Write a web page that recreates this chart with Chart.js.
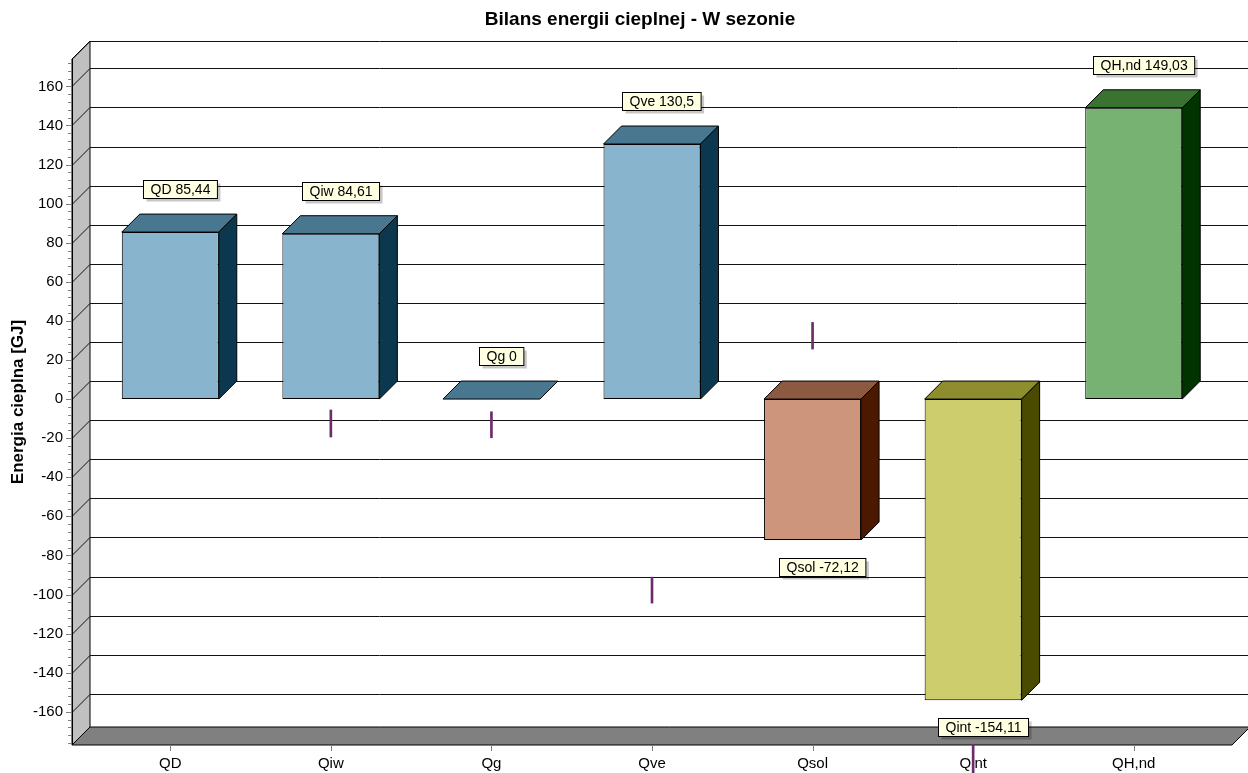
<!DOCTYPE html>
<html>
<head>
<meta charset="utf-8">
<script src="https://cdn.jsdelivr.net/npm/chart.js@4/dist/chart.umd.min.js"></script>
<style>
  body { margin: 0; background: #fff; }
</style>
</head>
<body>
<canvas id="myChart" width="1248" height="773"></canvas>
<script>
// data
const categories = ['QD', 'Qiw', 'Qg', 'Qve', 'Qsol', 'Qint', 'QH,nd'];
const values = [85.44, 84.61, 0, 130.5, -72.12, -154.11, 149.03];
// the small purple marks, low / high ends
const markLow = [null, -19.4, -19.8, -104.4, 25.6, -191.4, null];
const markHigh = [null, -5.6, -6.5, -91.1, 39.2, -176.6, null];
const yMin = -177;
const yMax = 174;
const yStep = 20;

// colours of the box faces
const frontColors = ['#88b5cd', '#88b5cd', '#88b5cd', '#88b5cd', '#cd967c', '#cdcd6e', '#78b273'];
const topColors = ['#48778f', '#48778f', '#48778f', '#48778f', '#8c5a40', '#8e8e2e', '#3a7232'];
const sideColors = ['#0b374f', '#0b374f', '#0b374f', '#0b374f', '#4b1900', '#4b4b00', '#003300'];

const FONT = 'Arial, "Liberation Sans", sans-serif';
const depth = 18;

function poly(ctx, pts, fill) {
  ctx.beginPath();
  ctx.moveTo(pts[0][0], pts[0][1]);
  for (let i = 1; i < pts.length; i++) ctx.lineTo(pts[i][0], pts[i][1]);
  ctx.closePath();
  if (fill) {
    ctx.fillStyle = fill;
    ctx.fill();
  }
  ctx.strokeStyle = '#000';
  ctx.lineWidth = 1;
  ctx.stroke();
}

// walls, floor, grid and axis ticks
const box3d = {
  id: 'box3d',
  beforeDatasetsDraw(chart) {
    const { ctx, chartArea: a, scales: { x, y } } = chart;
    const fx = a.left - depth;
    const farRight = chart.width;
    ctx.save();
    // left wall
    poly(ctx, [[fx, a.top], [a.left, a.top - depth], [a.left, a.bottom - depth], [fx, a.bottom]], '#c0c0c0');
    // floor
    poly(ctx, [[fx, a.bottom], [a.left, a.bottom - depth], [farRight + 2, a.bottom - depth], [a.right + depth, a.bottom]], '#808080');
    // grid lines: major ticks plus top edge
    const lines = y.ticks.map(t => y.getPixelForValue(t.value));
    lines.push(a.top);
    ctx.beginPath();
    lines.forEach(py => {
      const yy = Math.round(py) + 0.5;
      ctx.moveTo(fx, yy);
      ctx.lineTo(a.left, yy - depth);
      ctx.lineTo(farRight, yy - depth);
    });
    ctx.strokeStyle = '#111';
    ctx.lineWidth = 1;
    ctx.stroke();
    // front axis line
    ctx.beginPath();
    ctx.moveTo(Math.round(fx) + 0.5, a.top);
    ctx.lineTo(Math.round(fx) + 0.5, a.bottom);
    ctx.strokeStyle = '#000';
    ctx.stroke();
    // minor and major tick marks
    ctx.beginPath();
    for (let v = Math.ceil(yMin / 4) * 4; v <= yMax; v += 4) {
      const py = Math.round(y.getPixelForValue(v)) + 0.5;
      const len = v % yStep === 0 ? 6 : 4;
      ctx.moveTo(fx - len, py);
      ctx.lineTo(fx, py);
    }
    categories.forEach((c, i) => {
      const px = Math.round(x.getPixelForValue(i)) + 0.5;
      ctx.moveTo(px, a.bottom + 1);
      ctx.lineTo(px, a.bottom + 6);
    });
    ctx.strokeStyle = '#808080';
    ctx.stroke();
    ctx.restore();
  },
  afterDatasetsDraw(chart) {
    const { ctx } = chart;
    const meta = chart.getDatasetMeta(0);
    ctx.save();
    // top and side faces
    meta.data.forEach((bar, i) => {
      const l = bar.x - bar.width / 2;
      const r = bar.x + bar.width / 2;
      const top = Math.min(bar.y, bar.base);
      const bottom = Math.max(bar.y, bar.base);
      poly(ctx, [[l, top], [l + depth, top - depth], [r + depth, top - depth], [r, top]], topColors[i]);
      if (bottom - top > 0) {
        poly(ctx, [[r, top], [r + depth, top - depth], [r + depth, bottom - depth], [r, bottom]], sideColors[i]);
      }
    });
    // value labels
    ctx.font = '14px ' + FONT;
    ctx.textAlign = 'center';
    ctx.textBaseline = 'middle';
    meta.data.forEach((bar, i) => {
      const v = values[i];
      const text = categories[i] + ' ' + String(v).replace('.', ',');
      const w = ctx.measureText(text).width + 14;
      const h = 18;
      const cx = bar.x + 9.5;
      const cy = v >= 0 ? bar.y - 43 : bar.y + 27;
      const bx = Math.round(cx - w / 2) + 0.5;
      const by = Math.round(cy - h / 2) + 0.5;
      ctx.fillStyle = 'rgba(0,0,0,0.22)';
      ctx.fillRect(bx + 3, by + 3, w, h);
      ctx.fillStyle = '#ffffe1';
      ctx.fillRect(bx, by, w, h);
      ctx.strokeStyle = '#000';
      ctx.lineWidth = 1;
      ctx.strokeRect(bx, by, w, h);
      ctx.fillStyle = '#000';
      ctx.fillText(text, bx + w / 2, by + h / 2 + 0.5);
    });
    ctx.restore();
  },
  afterDraw(chart) {
    const { ctx } = chart;
    ctx.save();
    ctx.font = 'bold 19px ' + FONT;
    ctx.fillStyle = '#000';
    ctx.textAlign = 'center';
    ctx.textBaseline = 'middle';
    ctx.fillText('Bilans energii cieplnej - W sezonie', 640, 20);
    ctx.restore();
  }
};

const data = {
  labels: categories,
  datasets: [{
    data: values,
    backgroundColor: frontColors,
    borderColor: '#000',
    borderWidth: 1,
    borderSkipped: false,
    barPercentage: 0.604,
    categoryPercentage: 1,
    grouped: false,
  }, {
    data: categories.map((c, i) => markLow[i] === null ? null : [markLow[i], markHigh[i]]),
    backgroundColor: '#6b2c6b',
    borderWidth: 0,
    barThickness: 2,
    grouped: false,
    clip: false,
  }]
};

const config = {
  type: 'bar',
  data: data,
  options: {
    responsive: false,
    animation: false,
    layout: { padding: { left: 0, right: 34, top: 59, bottom: 0 } },
    plugins: {
      legend: { display: false },
      tooltip: { enabled: false },
      title: { display: false },
    },
    scales: {
      x: {
        grid: { display: false, drawTicks: false },
        border: { display: false },
        ticks: { padding: 10, maxRotation: 0, color: '#000', font: { size: 15, family: FONT } },
        afterFit: (s) => { s.height = 28; },
      },
      y: {
        min: yMin,
        max: yMax,
        grid: { display: false, drawTicks: false },
        border: { display: false },
        ticks: {
          stepSize: yStep,
          includeBounds: false,
          padding: 27,
          color: '#000',
          font: { size: 15, family: FONT },
          callback: (v) => String(v),
        },
        title: {
          display: true,
          text: 'Energia cieplna [GJ]',
          color: '#000',
          font: { size: 17, weight: 'bold', family: FONT },
          padding: { top: 8, bottom: 0 },
        },
        afterFit: (s) => {
          s.width = 90;
          s.paddingTop = 0;
          s.paddingBottom = 0;
        },
      },
    },
  },
  plugins: [box3d],
};

var myChart = new Chart(document.getElementById('myChart'), config);
</script>
</body>
</html>
